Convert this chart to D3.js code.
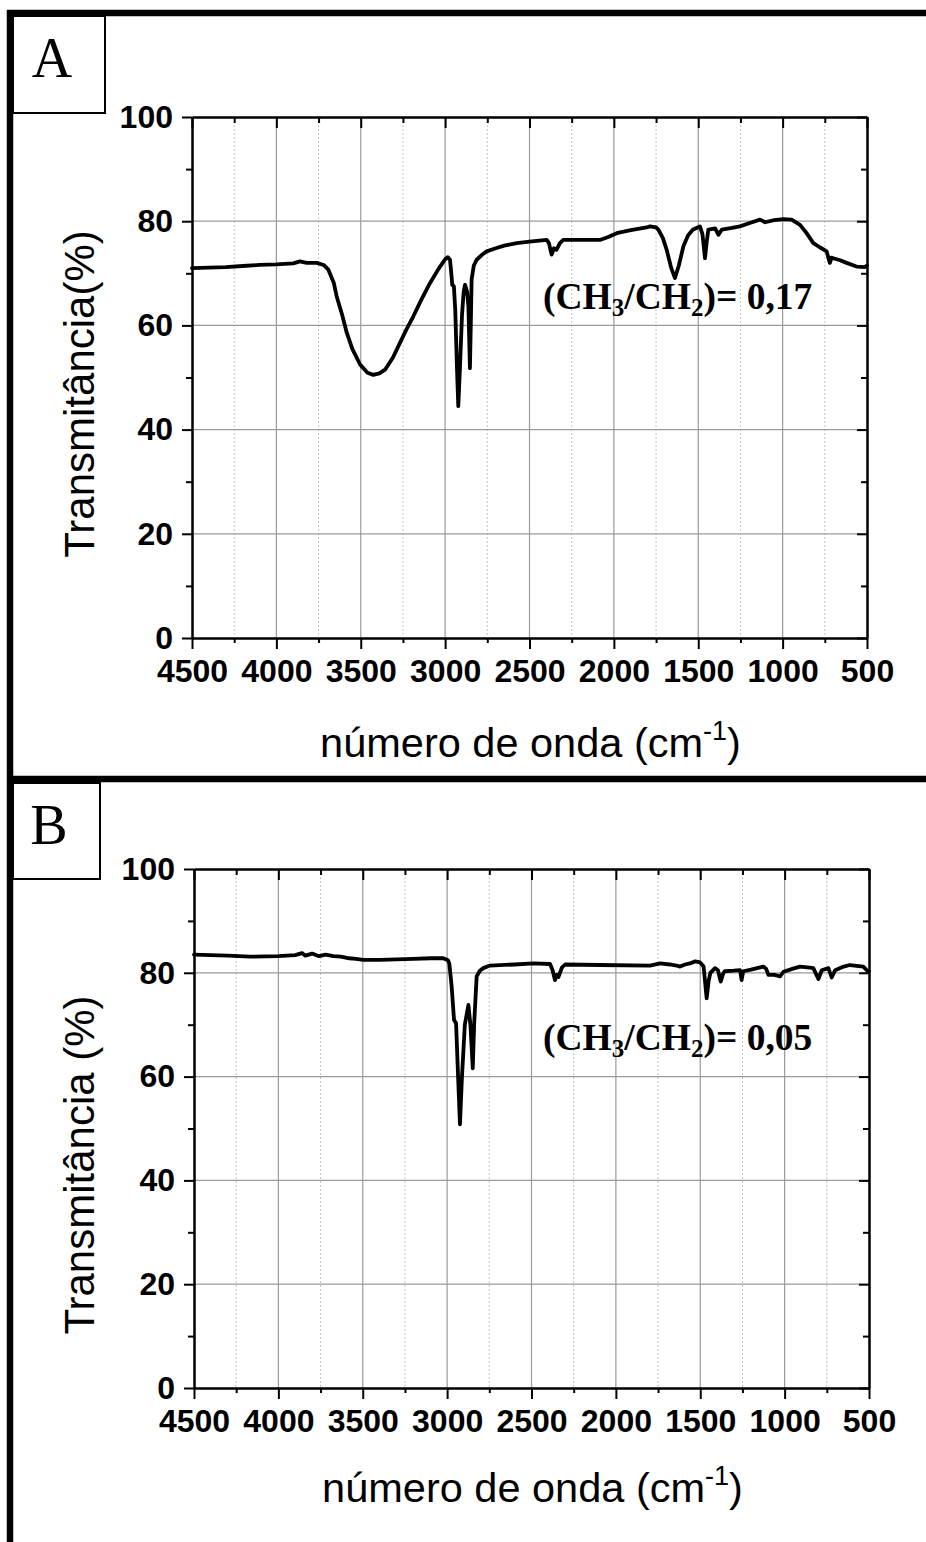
<!DOCTYPE html>
<html>
<head>
<meta charset="utf-8">
<script src="https://cdn.jsdelivr.net/npm/d3@7"></script>
<style>
  body { margin: 0; background: #fff; }
  svg { display: block; }
  .tick text { font-family: "Liberation Sans", Arial, sans-serif; font-weight: bold; font-size: 32px; fill: #000; }
  .axis path, .axis line { stroke: #000; stroke-width: 2; }
</style>
</head>
<body>
<svg id="chart" width="926" height="1542"></svg>
<script>
// ticks
var xTicks = [4500, 4000, 3500, 3000, 2500, 2000, 1500, 1000, 500];
var xMinor = [4250, 3750, 3250, 2750, 2250, 1750, 1250, 750];
var yTicks = [0, 20, 40, 60, 80, 100];
var yMinor = [10, 30, 50, 70, 90];

// spectrum A: wavenumber (cm-1) / transmittance (%)
var waveA = [4500, 4400, 4300, 4200, 4100, 4000, 3900, 3860, 3820, 3760, 3720, 3692, 3660, 3643, 3610,
  3583, 3550, 3504, 3460, 3426, 3390, 3356, 3310, 3267, 3230, 3189, 3140, 3090, 3040, 3000, 2985,
  2971, 2962, 2958, 2948, 2940, 2930, 2922, 2912, 2900, 2890, 2882, 2870, 2862, 2853, 2848, 2843,
  2830, 2813, 2780, 2754, 2700, 2650, 2576, 2500, 2398, 2385, 2369, 2355, 2340, 2320, 2300, 2200,
  2082, 2030, 1983, 1900, 1806, 1786, 1750, 1737, 1710, 1687, 1660, 1638, 1615, 1588, 1560, 1531,
  1490, 1475, 1460, 1450, 1440, 1400, 1380, 1360, 1300, 1253, 1190, 1134, 1104, 1050, 996, 947,
  897, 860, 818, 780, 739, 725, 720, 710, 700, 660, 621, 562, 512, 500];
var transA = [71.0, 71.1, 71.2, 71.4, 71.6, 71.7, 71.9, 72.3, 72.0, 72.0, 71.6, 70.7, 68.2, 65.6, 62.0,
  58.6, 55.5, 52.5, 50.9, 50.5, 50.8, 51.5, 53.8, 56.7, 59.2, 61.7, 65.0, 68.1, 70.8, 72.7, 73.1,
  72.6, 69.5, 67.8, 67.5, 63.0, 52.0, 44.5, 52.0, 62.0, 66.5, 67.8, 66.5, 63.6, 51.8, 60.0, 68.8,
  71.5, 72.6, 73.6, 74.2, 74.8, 75.3, 75.8, 76.1, 76.4, 75.8, 73.6, 74.8, 74.5, 75.8, 76.4, 76.4,
  76.4, 77.0, 77.7, 78.3, 78.8, 79.0, 78.8, 78.4, 76.8, 74.5, 71.0, 69.1, 71.5, 75.2, 77.3, 78.4,
  79.0, 77.5, 72.9, 76.0, 78.4, 78.6, 77.4, 78.4, 78.7, 79.0, 79.7, 80.3, 79.8, 80.2, 80.4, 80.3,
  79.3, 77.8, 75.8, 75.0, 74.2, 72.5, 72.0, 73.0, 72.9, 72.5, 72.0, 71.3, 71.2, 71.5];

// spectrum B
var waveB = [4500, 4400, 4300, 4168, 4000, 3900, 3860, 3840, 3800, 3760, 3720, 3674, 3630, 3580, 3540,
  3497, 3400, 3300, 3200, 3100, 3023, 2995, 2987, 2973, 2959, 2947, 2935, 2924, 2912, 2895, 2874,
  2862, 2848, 2840, 2825, 2806, 2786, 2746, 2600, 2489, 2390, 2375, 2361, 2350, 2340, 2320, 2301,
  2100, 1798, 1738, 1680, 1640, 1620, 1590, 1561, 1530, 1501, 1480, 1462, 1450, 1440, 1413, 1395,
  1379, 1365, 1355, 1300, 1264, 1255, 1245, 1200, 1126, 1110, 1096, 1060, 1027, 1007, 950, 908,
  850, 830, 800, 780, 741, 721, 701, 650, 613, 534, 504, 500];
var transB = [83.5, 83.4, 83.3, 83.1, 83.2, 83.4, 83.8, 83.3, 83.7, 83.2, 83.5, 83.2, 83.1, 82.8, 82.7,
  82.5, 82.5, 82.6, 82.7, 82.8, 82.8, 82.4, 81.8, 77.3, 70.9, 70.3, 60.0, 50.8, 60.0, 70.0, 73.8,
  70.0, 61.6, 70.0, 79.3, 80.4, 80.9, 81.4, 81.6, 81.8, 81.7, 80.5, 78.6, 79.6, 79.2, 81.0, 81.6,
  81.5, 81.4, 81.8, 81.6, 81.4, 81.2, 81.6, 81.8, 82.2, 82.0, 81.2, 75.1, 78.5, 80.0, 80.9, 80.5,
  78.3, 79.8, 80.3, 80.4, 80.5, 78.6, 80.3, 80.6, 81.2, 80.8, 79.6, 79.6, 79.3, 80.2, 80.8, 81.2,
  81.0, 80.9, 78.8, 80.5, 80.9, 79.1, 80.5, 81.2, 81.5, 81.2, 80.2, 80.3];

var svg = d3.select("#chart");

// outer frame: thick lines
var frame = svg.append("g").attr("stroke", "#000").attr("stroke-width", 6.5);
frame.append("line").attr("x1", 7).attr("x2", 926).attr("y1", 13).attr("y2", 13);
frame.append("line").attr("x1", 10).attr("x2", 10).attr("y1", 10).attr("y2", 1542);
frame.append("line").attr("x1", 7).attr("x2", 926).attr("y1", 779).attr("y2", 779);

function panel(cfg) {
  var g = svg.append("g");

  var x = d3.scaleLinear().domain([4500, 500]).range([cfg.left, cfg.right]);
  var y = d3.scaleLinear().domain([0, 100]).range([cfg.bottom, cfg.top]);

  // grid
  g.append("g").selectAll("line").data(xMinor).join("line")
    .attr("x1", d => x(d)).attr("x2", d => x(d))
    .attr("y1", cfg.top).attr("y2", cfg.bottom)
    .attr("stroke", "#c4c4c4").attr("stroke-width", 1).attr("stroke-dasharray", "2,2");
  g.append("g").selectAll("line").data(xTicks.slice(1, -1)).join("line")
    .attr("x1", d => x(d)).attr("x2", d => x(d))
    .attr("y1", cfg.top).attr("y2", cfg.bottom)
    .attr("stroke", "#9a9a9a").attr("stroke-width", 1.2);
  g.append("g").selectAll("line").data(yTicks.slice(1, -1)).join("line")
    .attr("x1", cfg.left).attr("x2", cfg.right)
    .attr("y1", d => y(d)).attr("y2", d => y(d))
    .attr("stroke", "#9a9a9a").attr("stroke-width", 1.2);

  // minor ticks
  g.append("g").attr("class", "axis").attr("transform", `translate(0,${cfg.bottom})`)
    .call(d3.axisBottom(x).tickValues(xMinor).tickFormat("").tickSize(5).tickSizeOuter(0));
  g.append("g").attr("class", "axis").attr("transform", `translate(0,${cfg.top})`)
    .call(d3.axisTop(x).tickValues(xMinor).tickFormat("").tickSize(-6).tickSizeOuter(0));
  g.append("g").attr("class", "axis").attr("transform", `translate(${cfg.left},0)`)
    .call(d3.axisLeft(y).tickValues(yMinor).tickFormat("").tickSize(6).tickSizeOuter(0));
  g.append("g").attr("class", "axis").attr("transform", `translate(${cfg.right},0)`)
    .call(d3.axisRight(y).tickValues(yMinor).tickFormat("").tickSize(-6).tickSizeOuter(0));

  // major axes
  g.append("g").attr("class", "axis").attr("transform", `translate(0,${cfg.bottom})`)
    .call(d3.axisBottom(x).tickValues(xTicks).tickFormat(d3.format("d")).tickSize(11).tickPadding(10.5).tickSizeOuter(0));
  g.append("g").attr("class", "axis").attr("transform", `translate(0,${cfg.top})`)
    .call(d3.axisTop(x).tickValues(xTicks).tickFormat("").tickSize(-11).tickSizeOuter(0));
  g.append("g").attr("class", "axis").attr("transform", `translate(${cfg.left},0)`)
    .call(d3.axisLeft(y).tickValues(yTicks).tickFormat(d3.format("d")).tickSize(10).tickPadding(9).tickSizeOuter(0));
  g.append("g").attr("class", "axis").attr("transform", `translate(${cfg.right},0)`)
    .call(d3.axisRight(y).tickValues(yTicks).tickFormat("").tickSize(-10).tickSizeOuter(0));

  // spectrum
  var pts = d3.zip(cfg.wave, cfg.trans);
  g.append("path").datum(pts)
    .attr("fill", "none").attr("stroke", "#000").attr("stroke-width", 3.8)
    .attr("stroke-linejoin", "round").attr("stroke-linecap", "round")
    .attr("d", d3.line().x(d => x(d[0])).y(d => y(d[1])));

  // axis titles
  g.append("text")
    .attr("transform", `translate(${cfg.ytX},${cfg.ytY}) rotate(-90)`)
    .attr("text-anchor", "middle")
    .attr("font-family", "Liberation Sans, Arial, sans-serif").attr("font-size", 42)
    .text(cfg.ytitle);

  var xt = g.append("text")
    .attr("x", (cfg.left + cfg.right) / 2 + 1).attr("y", cfg.xtY)
    .attr("text-anchor", "middle")
    .attr("font-family", "Liberation Sans, Arial, sans-serif").attr("font-size", 41.5);
  xt.append("tspan").text("número de onda (cm");
  xt.append("tspan").attr("dy", -17).attr("font-size", 27).text("-1");
  xt.append("tspan").attr("dy", 17).text(")");

  // ratio note
  var nt = g.append("text")
    .attr("x", cfg.noteX).attr("y", cfg.noteY)
    .attr("font-family", "Liberation Serif, Times New Roman, serif")
    .attr("font-weight", "bold").attr("font-size", 37.5);
  nt.append("tspan").text("(CH");
  nt.append("tspan").attr("dy", 7).attr("font-size", 25).text("3");
  nt.append("tspan").attr("dy", -7).text("/CH");
  nt.append("tspan").attr("dy", 7).attr("font-size", 25).text("2");
  nt.append("tspan").attr("dy", -7).text(")= " + cfg.ratio);

  // panel letter box
  g.append("rect")
    .attr("x", cfg.box[0]).attr("y", cfg.box[1])
    .attr("width", cfg.box[2] - cfg.box[0]).attr("height", cfg.box[3] - cfg.box[1])
    .attr("fill", "#fff").attr("stroke", "#000").attr("stroke-width", 2);
  g.append("text")
    .attr("x", cfg.letterX).attr("y", cfg.letterY)
    .attr("text-anchor", "middle")
    .attr("font-family", "Liberation Serif, Times New Roman, serif").attr("font-size", 56)
    .text(cfg.letter);
}

panel({
  left: 192, right: 867, top: 117, bottom: 638,
  wave: waveA, trans: transA,
  ytitle: "Transmitância(%)", ytX: 94, ytY: 394,
  xtY: 757,
  noteX: 543, noteY: 309, ratio: "0,17",
  box: [13, 16, 105, 113], letter: "A", letterX: 52, letterY: 77
});

panel({
  left: 194, right: 869, top: 869, bottom: 1388,
  wave: waveB, trans: transB,
  ytitle: "Transmitância (%)", ytX: 94, ytY: 1165,
  xtY: 1502,
  noteX: 543, noteY: 1050, ratio: "0,05",
  box: [13, 783, 100, 879], letter: "B", letterX: 49, letterY: 844
});
</script>
</body>
</html>
